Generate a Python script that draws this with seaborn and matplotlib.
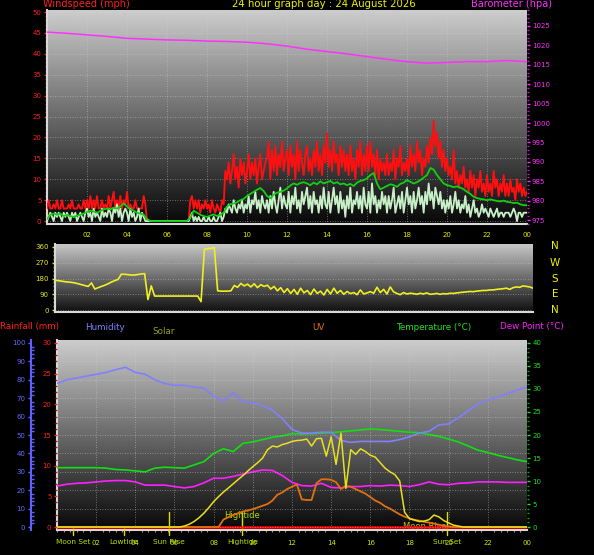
import numpy as np
import matplotlib
matplotlib.use("Agg")
import matplotlib.pyplot as plt
from matplotlib.ticker import MultipleLocator
import seaborn as sns

# ---------------- data ----------------
hour_ticks = [2, 4, 6, 8, 10, 12, 14, 16, 18, 20, 22, 24]
hour_labels = ["02", "04", "06", "08", "10", "12", "14", "16", "18", "20", "22", "00"]

# wind gust, mph, one value every 5 minutes (one row per hour)
gust = [
    3, 5, 3, 3, 4, 3, 5, 3, 3, 5, 3, 3,
    3, 4, 3, 5, 3, 3, 3, 4, 3, 3, 5, 3,
    5, 3, 6, 3, 5, 3, 6, 3, 3, 5, 3, 4,
    3, 6, 3, 5, 7, 3, 5, 3, 6, 3, 5, 4,
    7, 3, 4, 3, 3, 5, 3, 3, 3, 3, 6, 4,
    0, 0, 0, 0, 0, 0, 0, 0, 0, 0, 0, 0,
    0, 0, 0, 0, 0, 0, 0, 0, 0, 0, 0, 0,
    0, 0, 5, 6, 3, 5, 3, 5, 2, 4, 3, 5,
    3, 4, 2, 5, 3, 2, 4, 3, 2, 5, 4, 12,
    10, 14, 9, 12, 16, 10, 13, 8, 15, 11, 14, 9,
    12, 16, 10, 14, 11, 15, 9, 13, 16, 10, 12, 14,
    15, 19, 10, 17, 12, 18, 11, 16, 13, 19, 12, 15,
    17, 11, 18, 13, 16, 10, 19, 12, 17, 14, 11, 16,
    18, 12, 15, 11, 17, 13, 19, 12, 16, 11, 18, 14,
    21, 13, 17, 12, 19, 14, 16, 11, 18, 13, 17, 12,
    16, 11, 18, 12, 15, 10, 17, 13, 19, 11, 16, 12,
    18, 12, 19, 13, 16, 11, 17, 10, 15, 12, 14, 11,
    16, 11, 14, 12, 17, 10, 15, 13, 18, 11, 14, 12,
    15, 11, 18, 13, 16, 12, 19, 14, 17, 11, 15, 13,
    18, 14, 20, 16, 24, 18, 21, 15, 19, 13, 17, 12,
    15, 11, 13, 10, 17, 9, 12, 8, 11, 9, 13, 8,
    10, 7, 12, 8, 11, 6, 10, 8, 12, 7, 9, 6,
    11, 7, 9, 6, 12, 8, 10, 6, 9, 7, 11, 6,
    9, 6, 10, 7, 8, 5, 10, 7, 9, 6, 8, 6,
    7,
]

# wind speed, mph, every 5 minutes
speed = [
    0, 1, 2, 1, 0, 2, 1, 2, 1, 0, 2, 1,
    2, 1, 0, 2, 1, 2, 0, 1, 2, 1, 0, 2,
    3, 1, 2, 0, 3, 1, 2, 1, 0, 3, 1, 2,
    1, 3, 2, 0, 3, 2, 4, 1, 3, 0, 2, 3,
    2, 0, 3, 1, 2, 0, 1, 3, 0, 2, 1, 0,
    0, 0, 0, 0, 0, 0, 0, 0, 0, 0, 0, 0,
    0, 0, 0, 0, 0, 0, 0, 0, 0, 0, 0, 0,
    0, 0, 1, 2, 0, 1, 0, 1, 0, 0, 1, 0,
    0, 1, 0, 0, 1, 0, 0, 1, 2, 0, 1, 3,
    2, 4, 3, 2, 5, 3, 2, 4, 3, 5, 2, 4,
    3, 6, 2, 5, 4, 7, 3, 5, 2, 6, 4, 3,
    5, 2, 6, 3, 7, 4, 2, 5, 8, 3, 6, 4,
    3, 7, 2, 6, 4, 8, 3, 5, 2, 7, 4, 6,
    8, 3, 6, 2, 7, 4, 5, 2, 6, 3, 8, 4,
    3, 7, 2, 5, 8, 4, 6, 2, 7, 3, 5, 1,
    6, 3, 8, 2, 5, 4, 7, 3, 6, 2, 8, 4,
    3, 7, 2, 9, 4, 6, 2, 5, 3, 7, 4, 6,
    2, 6, 3, 5, 8, 2, 4, 6, 3, 7, 2, 5,
    8, 4, 6, 2, 7, 3, 5, 8, 4, 6, 2, 7,
    4, 9, 5, 7, 3, 8, 6, 4, 7, 3, 5, 2,
    5, 3, 6, 2, 4, 7, 3, 5, 2, 4, 3, 6,
    2, 4, 1, 3, 5, 2, 3, 1, 2, 4, 2, 3,
    2, 1, 3, 2, 1, 2, 3, 1, 2, 2, 1, 2,
    2, 2, 1, 2, 3, 2, 0, 2, 2, 1, 2, 2,
    2,
]

# average wind, mph, every 10 minutes
avg_wind = [
    0.5, 1.5, 1.8, 1.5, 1.8, 1.2,
    1.5, 1.2, 1.0, 1.3, 1.5, 1.8,
    2.2, 2.5, 2.3, 2.0, 2.4, 2.8,
    3.0, 2.8, 3.2, 3.0, 3.5, 4.2,
    3.5, 2.8, 2.5, 2.0, 1.8, 1.5,
    0.5, 0, 0, 0, 0, 0,
    0, 0, 0, 0, 0, 0,
    0, 0.8, 2.5, 2.0, 1.5, 1.2,
    1.0, 1.3, 1.6, 1.2, 1.5, 2.0,
    3.5, 4.0, 4.2, 4.5, 5.0, 5.3,
    6.0, 6.5, 7.0, 7.5, 7.9, 7.2,
    6.0, 5.5, 6.3, 6.8, 7.0, 7.3,
    7.8, 8.5, 9.0, 8.7, 9.1, 9.3,
    9.0, 8.6, 9.2, 8.8, 9.5, 9.0,
    9.3, 9.6, 9.0, 9.3, 8.8, 9.0,
    8.6, 8.9, 8.4, 9.2, 9.6, 9.8,
    10.2, 11.0, 11.5, 9.0, 7.6, 8.0,
    8.4, 8.8, 8.6, 8.2, 8.9, 9.2,
    9.8, 9.4, 9.0, 9.3, 9.8, 10.4,
    11.0, 12.7, 12.3, 11.0, 10.0, 9.0,
    8.6, 8.4, 8.1, 8.3, 8.0, 7.6,
    7.0, 6.5, 5.8, 5.5, 5.3, 5.2,
    5.0, 5.2, 5.0, 4.8, 4.7, 4.9,
    4.6, 4.5, 4.3, 4.4, 4.0, 3.8,
    3.8,
]

# barometer, hPa, hourly
baro = [1023.4, 1023.1, 1022.7, 1022.3, 1021.8, 1021.6, 1021.4, 1021.3, 1021.1,
        1021.0, 1020.8, 1020.4, 1019.8, 1019.0, 1018.4, 1017.8, 1017.1, 1016.4,
        1015.8, 1015.4, 1015.6, 1015.8, 1015.8, 1016.1, 1015.8]

# wind direction, degrees, every 10 minutes
wind_dir = [
    170, 168, 165, 162, 160, 158,
    155, 150, 145, 140, 135, 155,
    120, 128, 135, 142, 150, 160,
    168, 175, 205, 204, 202, 200,
    200, 203, 206, 208, 60, 138,
    80, 80, 80, 80, 80, 80,
    80, 80, 80, 80, 80, 80,
    80, 80, 48, 346, 350, 352,
    356, 110, 108, 108, 108, 110,
    140, 130, 152, 138, 148, 132,
    150, 128, 145, 135, 142, 120,
    135, 110, 128, 100, 122, 95,
    118, 90, 125, 98, 112, 88,
    120, 95, 108, 86, 118, 92,
    125, 96, 112, 90, 106, 94,
    100, 88, 115, 92, 98, 105,
    96, 130, 100, 118, 92, 132,
    104, 95, 88, 100, 92, 96,
    94, 90, 96, 92, 98, 90,
    92, 95, 90, 94, 92, 96,
    95, 98, 100, 102, 104, 106,
    105, 108, 110, 112, 112, 115,
    115, 118, 120, 122, 125, 118,
    128, 132, 130, 138, 135, 132,
    125,
]

# half-hourly values, 00:00 .. 24:00
humidity = [78, 80, 81, 82, 83, 84, 85.5, 86.8, 84, 83, 80, 78, 77, 77, 76, 75.5,
            71, 68.5, 73, 68, 67.5, 66, 63.5, 59, 53, 51, 51, 51.5, 51.5, 47, 46,
            46.5, 46.5, 46.5, 46.5, 47.5, 49, 51, 52, 55.5, 56, 59.5, 63, 67, 69,
            70.5, 72.5, 74.5, 76]
temperature = [12.9, 12.9, 12.9, 12.9, 12.9, 12.8, 12.5, 12.4, 12.2, 12.0, 12.8,
               13.0, 12.9, 12.8, 13.5, 14.2, 16.0, 17.0, 16.4, 18.2, 18.5, 19.0,
               19.5, 19.8, 20.3, 20.2, 20.3, 20.4, 20.5, 20.7, 20.9, 21.1, 21.3,
               21.2, 21.0, 20.8, 20.6, 20.5, 20.1, 19.7, 19.1, 18.5, 17.6, 16.7,
               16.2, 15.6, 15.1, 14.6, 14.2]
dew_point = [8.9, 9.3, 9.5, 9.6, 9.8, 10.0, 10.1, 10.1, 9.8, 9.1, 9.1, 9.1, 8.8,
             8.5, 8.8, 9.6, 10.6, 10.6, 11.0, 11.5, 12.0, 12.4, 12.3, 11.2, 9.7,
             9.0, 8.9, 9.5, 8.6, 8.5, 8.8, 8.8, 9.0, 8.9, 9.1, 9.0, 8.8, 9.2, 9.8,
             9.3, 9.2, 9.5, 9.6, 9.8, 9.8, 9.8, 9.7, 9.7, 9.7]
rainfall = [0.0, 0.0, 0.0, 0.0, 0.0, 0.0, 0.0, 0.0, 0.0, 0.0, 0.0, 0.0, 0.0,
            0.0, 0.0, 0.0, 0.0, 0.0, 0.0, 0.0, 0.0, 0.0, 0.0, 0.0, 0.0]

# quarter-hourly values, 00:00 .. 24:00
solar = [
    0, 0, 0, 0, 0, 0, 0, 0, 0, 0, 0, 0, 0, 0, 0, 0, 0, 0, 0, 0, 0, 0, 0, 0, 0,
    0, 5, 15, 30, 50, 75, 105, 138, 165, 190, 212, 235, 258, 280, 305, 328,
    350, 375, 420, 440, 435, 448, 455, 465, 470, 472, 478, 440, 480, 482, 385,
    490, 340, 510, 210, 420, 395, 425, 410, 390, 380, 350, 320, 300, 285, 250,
    80, 45, 38, 30, 32, 40, 65, 55, 35, 22, 10, 5,
    0, 0, 0, 0, 0, 0, 0, 0, 0, 0, 0, 0, 0, 0,
]
uv_index = [
    0, 0, 0, 0, 0, 0, 0, 0, 0, 0, 0, 0, 0, 0, 0, 0, 0, 0, 0, 0, 0, 0, 0, 0,
    0, 0, 0, 0, 0, 0, 0, 0, 0, 0,
    0.65, 0.85, 1.05, 1.2, 1.35, 1.45, 1.55, 1.7, 1.85, 2.0, 2.3, 2.8, 3.0,
    3.3, 3.5, 3.7, 2.4, 2.35, 2.35, 3.8, 4.15, 4.15, 4.1, 3.9, 3.3, 3.6, 3.5,
    3.3, 3.1, 2.9, 2.6, 2.3, 2.1, 1.8, 1.6, 1.35, 1.1, 0.9, 0.75, 0.62, 0.55,
    0.45, 0.38, 0.3, 0.2, 0.1, 0.05,
    0, 0, 0, 0, 0, 0, 0, 0, 0, 0, 0, 0, 0, 0, 0, 0,
]

# sun / moon / tide events (hour, label)
event_hours = [0.82, 3.4, 5.7, 9.47, 19.9]
event_names = ["Moon Set", "Lowtide", "Sun Rise", "Hightide", "Sun Set"]
bottom_ticks = [2, 4, 6, 8, 10, 12, 14, 16, 18, 20, 22, 24]
bottom_labels = ["02", "04", "06", "08", "10", "12", "14", "16", "18", "20", "22", "00"]


def hours(values):
    return np.linspace(0, 24, len(values))


# ---------------- style ----------------
sns.set_theme(style="dark")
plt.rcParams["font.family"] = ["DejaVu Sans"]
plt.rcParams["figure.facecolor"] = "black"

W, H = 594, 555
fig = plt.figure(figsize=(W / 100, H / 100), dpi=100, facecolor="black")


def px_axes(x0, y0, x1, y1):
    return fig.add_axes([x0 / W, 1 - y1 / H, (x1 - x0) / W, (y1 - y0) / H])


def shade(ax, top=0.80, bottom=0.03):
    # vertical grey gradient behind the plot area
    grad = np.linspace(top, bottom, 256).reshape(-1, 1)
    ax.imshow(grad, cmap="gray", vmin=0, vmax=1, aspect="auto",
              extent=[0, 1, 0, 1], transform=ax.transAxes, zorder=0)
    ax.set_facecolor("black")
    for s in ax.spines.values():
        s.set_visible(False)
    for side in ("left", "bottom"):
        ax.spines[side].set_visible(True)
        ax.spines[side].set_color("#d8d8d8")
        ax.spines[side].set_linewidth(1.5)


def line(ax, x, y, color, lw=1.1, z=3):
    sns.lineplot(x=x, y=y, ax=ax, color=color, linewidth=lw, estimator=None,
                 errorbar=None, legend=False, zorder=z)
    ax.set_xlabel("")
    ax.set_ylabel("")


grid_kw = dict(color="#d0d0d0", linestyle=(0, (1, 2)), linewidth=0.6, alpha=0.6)

# ---------------- top panel: wind + barometer ----------------
axw = px_axes(47, 10, 527, 224)
shade(axw)
line(axw, hours(gust), gust, "#ff1010", 1.35)
line(axw, hours(speed), speed, "#c8f0c8", 1.3)
line(axw, hours(avg_wind), avg_wind, "#10d010", 1.3)
axw.set_xlim(0, 24)
axw.set_ylim(-0.7, 50.5)
axw.set_yticks(range(0, 51, 5))
axw.yaxis.set_minor_locator(MultipleLocator(1))
axw.set_xticks(hour_ticks)
axw.set_xticklabels(hour_labels)
axw.tick_params(axis="y", which="major", colors="#ff2020", labelsize=5,
                length=2.5, width=1, pad=1.5, left=True)
axw.tick_params(axis="y", which="minor", colors="#c01010", length=1.5, width=1, left=True)
axw.tick_params(axis="x", colors="#e8e800", labelsize=5, length=0, pad=5.5)
axw.grid(True, **grid_kw)
axw.set_axisbelow(True)

axp = axw.twinx()
line(axp, hours(baro), baro, "#ff30ff", 1.1, z=4)
axp.set_ylim(974.0, 1029.1)
axp.set_yticks(range(975, 1026, 5))
axp.yaxis.set_minor_locator(MultipleLocator(1))
for s in axp.spines.values():
    s.set_visible(False)
axp.tick_params(axis="y", which="major", colors="#ff30ff", labelsize=5,
                length=2.5, width=1, pad=1, right=True)
axp.tick_params(axis="y", which="minor", colors="#c020c0", length=1.5, width=1, right=True)
axp.grid(False)

fig.text(43 / W, 1 - 4 / H, "Windspeed (mph)", color="#ff2020", fontsize=7, va="center")
fig.text(324 / W, 1 - 4 / H, "24 hour graph day : 24 August 2026", color="#f0f000",
         fontsize=7.3, va="center", ha="center")
fig.text(471 / W, 1 - 4 / H, "Barometer (hpa)", color="#ff30ff", fontsize=7, va="center")

# ---------------- middle panel: wind direction ----------------
axd = px_axes(55, 244, 533, 312)
shade(axd, 0.78, 0.06)
line(axd, hours(wind_dir), wind_dir, "#f0f020", 1.2)
axd.set_xlim(0, 24)
axd.set_ylim(-11, 377)
axd.set_yticks([0, 90, 180, 270, 360])
axd.yaxis.set_minor_locator(MultipleLocator(22.5))
axd.set_xticks([])
axd.tick_params(axis="y", which="major", colors="#e8e820", labelsize=5,
                length=2.5, width=1, pad=2, left=True)
axd.tick_params(axis="y", which="minor", colors="#b0b010", length=1.5, width=1, left=True)
axd.grid(True, axis="y", **grid_kw)
axd.set_axisbelow(True)
ytr = axd.get_yaxis_transform()
for deg, letter in zip([368, 270, 180, 90, 0], ["N", "W", "S", "E", "N"]):
    axd.text(1.046, deg, letter, transform=ytr, color="#f0f000", fontsize=7.5,
             ha="center", va="center")

# ---------------- bottom panel ----------------
axb = px_axes(57, 340, 527, 530)
shade(axb)
axb.set_xlim(0, 24)
axb.set_ylim(-0.65, 40.65)

axr = axb.twinx()
axh = axb.twinx()
axu = axb.twinx()
axs = axb.twinx()

line(axr, hours(rainfall), rainfall, "#ff0000", 1.8)
line(axu, hours(uv_index), uv_index, "#e07010", 1.3)
line(axs, hours(solar), solar, "#e8e020", 1.1)
line(axh, hours(humidity), humidity, "#8080ff", 1.2)
line(axb, hours(temperature), temperature, "#10e010", 1.2)
line(axb, hours(dew_point), dew_point, "#ff20ff", 1.2)

axr.set_ylim(-0.4875, 30.4875)
axh.set_ylim(-1.625, 101.625)
axu.set_ylim(-0.26, 16.26)
axs.set_ylim(-16.25, 1016.25)
for a in (axr, axh, axu, axs):
    a.set_xlim(0, 24)
    a.grid(False)
    for s in a.spines.values():
        s.set_visible(False)
axu.set_yticks([])
axs.set_yticks([])

# temperature axis on the right
axb.yaxis.tick_right()
axb.set_yticks(range(0, 41, 5))
axb.yaxis.set_minor_locator(MultipleLocator(1))
axb.tick_params(axis="y", which="major", colors="#20e020", labelsize=5,
                length=2.5, width=1, pad=1.5, right=True, left=False)
axb.tick_params(axis="y", which="minor", colors="#10a010", length=1.5, width=1,
                right=True, left=False)
axb.grid(True, axis="x", **grid_kw)
axb.set_axisbelow(True)
# horizontal grid follows the humidity scale (10 % steps)
axh.yaxis.grid(True, **grid_kw)
axh.set_axisbelow(True)

# rainfall axis (red) left
axr.yaxis.tick_left()
axr.set_yticks(range(0, 31, 5))
axr.yaxis.set_minor_locator(MultipleLocator(1))
axr.tick_params(axis="y", which="major", colors="#ff2020", labelsize=5,
                length=2.5, width=1, pad=1.5, left=True, right=False)
axr.tick_params(axis="y", which="minor", colors="#b01010", length=1.5, width=1,
                left=True, right=False)

# humidity axis (blue) further left
axh.yaxis.tick_left()
axh.spines["left"].set_visible(True)
axh.spines["left"].set_color("#6060ff")
axh.spines["left"].set_linewidth(1.5)
axh.spines["left"].set_position(("outward", 18.7))
axh.set_yticks(range(0, 101, 10))
axh.yaxis.set_minor_locator(MultipleLocator(2))
axh.tick_params(axis="y", which="major", colors="#6a6aff", labelsize=5,
                length=2.5, width=1, pad=1.5, left=True, right=False)
axh.tick_params(axis="y", which="minor", colors="#6060ff", length=2, width=1,
                direction="in", left=True, right=False)

# x axis with events
axb.set_xticks(bottom_ticks)
axb.set_xticklabels(bottom_labels)
axb.xaxis.set_minor_locator(MultipleLocator(1 / 3))
axb.tick_params(axis="x", which="major", colors="#c8e800", labelsize=5, length=2,
                width=1, pad=5)
axb.tick_params(axis="x", which="minor", colors="#909090", length=1.5, width=0.8,
                bottom=True)
xtr = axb.get_xaxis_transform()
for h, name in zip(event_hours, event_names):
    axb.text(h, -0.063, name, transform=xtr, color="#b8e000", fontsize=5.3,
             ha="center", va="center", clip_on=False)
for h in event_hours[:2]:
    axb.plot([h, h], [-0.026, 0.016], transform=xtr, color="#e0e000", lw=1,
             clip_on=False, zorder=5)
for h in event_hours[2:]:
    axb.plot([h, h], [-0.026, 0.095], transform=xtr, color="#e0e000", lw=1,
             clip_on=False, zorder=5)
axb.text(event_hours[3], 0.074, "Hightide", transform=xtr, color="#b0d800",
         fontsize=6, ha="center", va="center", zorder=6)
axb.text(18.8, 0.02, "Moon Rise", transform=xtr, color="#c8b800",
         fontsize=6, ha="center", va="center", zorder=6)

fig.text(0 / W, 1 - 327 / H, "Rainfall (mm)", color="#ff2020", fontsize=6.3, va="center")
fig.text(85 / W, 1 - 327 / H, "Humidity", color="#8080ff", fontsize=6.3, va="center")
fig.text(152 / W, 1 - 332 / H, "Solar", color="#a0a020", fontsize=6.3, va="center")
fig.text(312 / W, 1 - 327 / H, "UV", color="#e07010", fontsize=6.3, va="center")
fig.text(396 / W, 1 - 327 / H, "Temperature (\u00b0C)", color="#20e020", fontsize=6.3, va="center")
fig.text(500 / W, 1 - 327 / H, "Dew Point (\u00b0C)", color="#ff20ff", fontsize=6.3, va="center")

plt.savefig("out.png", dpi=100, facecolor="black")
